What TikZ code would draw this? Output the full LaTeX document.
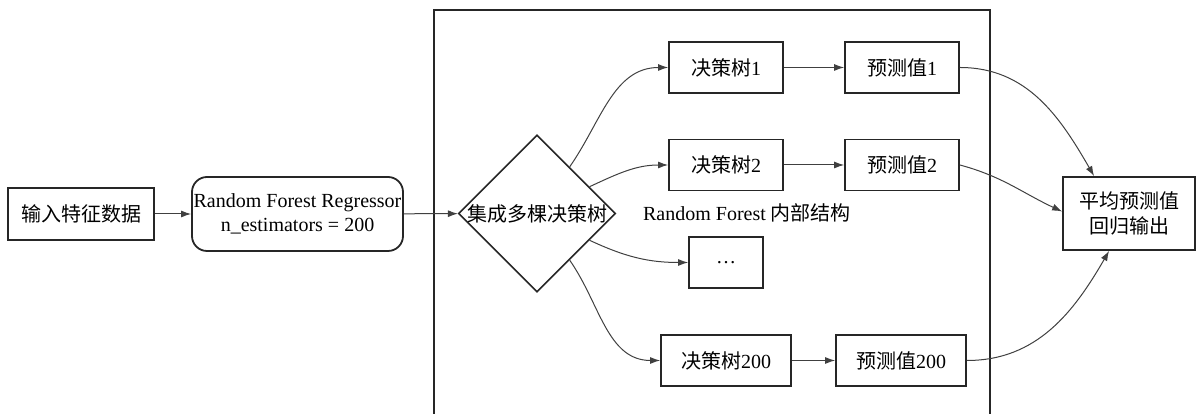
\documentclass[tikz,border=0pt]{standalone}
\usepackage{fontspec}
\setmainfont{Liberation Serif}
\newfontfamily\cjk{Noto Sans CJK SC}
\usetikzlibrary{shapes.geometric,arrows.meta}
\begin{document}
\begin{tikzpicture}[x=1pt,y=1pt,
  box/.style={draw=black!85, line width=1.8pt, minimum height=51pt, inner sep=0pt,
    font=\fontsize{20}{24.5}\selectfont, align=center},
  conn/.style={draw=black!75, line width=1pt, -{Latex[length=10pt,width=7pt]}},
  lab/.style={inner sep=0pt, font=\fontsize{20}{24}\selectfont}
]
\useasboundingbox (0,0) rectangle (1197,414);
% frame
\draw[draw=black!85, line width=1.8pt] (434,-6) rectangle (990,404);
% nodes
\node[box, minimum width=146pt, minimum height=52pt] (in) at (81,200) {{\cjk 输入特征数据}};
\node[box, rounded corners=15pt, minimum width=211pt, minimum height=74pt] (rf) at (297.5,200) {Random Forest Regressor\\n\_estimators = 200};
\node[draw=black!85, line width=1.6pt, diamond, minimum width=157pt, minimum height=157pt, inner sep=0pt] (d) at (537,200.5) {};
\node[lab] (dt) at (d) {{\cjk 集成多棵决策树}};
\node[box, minimum width=114pt] (t1) at (726,346.5) {{\cjk 决策树}1};
\node[box, minimum width=114pt] (p1) at (902,346.5) {{\cjk 预测值}1};
\node[box, minimum width=114pt] (t2) at (726,249) {{\cjk 决策树}2};
\node[box, minimum width=114pt] (p2) at (902,249) {{\cjk 预测值}2};
\node[box, minimum width=74pt] (dots) at (726,151.5) {\ldots};
\node[box, minimum width=130pt] (t200) at (726,53.5) {{\cjk 决策树}200};
\node[box, minimum width=130pt] (p200) at (901,53.5) {{\cjk 预测值}200};
\node[lab] (lbl) at (747,201) {Random Forest {\cjk 内部结构}};
\node[box, minimum width=132pt, minimum height=73pt] (out) at (1129,200.5) {{\cjk 平均预测值}\\{\cjk 回归输出}};
% connectors
\draw[conn] (in) -- (rf);
\draw[conn] (rf) -- (d);
\draw[conn] (d.55) to[out=55,in=180] (t1.west);
\draw[conn] (d.27) to[out=25,in=180] (t2.west);
\draw[conn] (d.-27) to[out=-25,in=180] (dots.west);
\draw[conn] (d.-55) to[out=-55,in=180] (t200.west);
\draw[conn] (t1) -- (p1);
\draw[conn] (t2) -- (p2);
\draw[conn] (t200) -- (p200);
\draw[conn] (p1.east) to[out=0,in=120] ([xshift=32pt]out.north west);
\draw[conn] (p2.east) to[out=-15,in=155] ([yshift=2pt]out.west);
\draw[conn] (p200.east) to[out=0,in=-120] ([xshift=47pt]out.south west);
\end{tikzpicture}
\end{document}
